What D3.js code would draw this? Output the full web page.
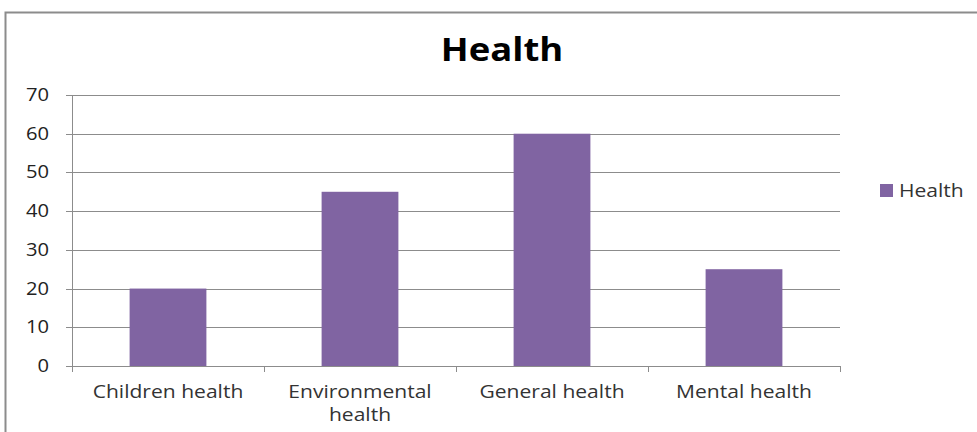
<!DOCTYPE html>
<html><head><meta charset="utf-8">
<script src="https://cdn.jsdelivr.net/npm/d3@7"></script>
<style>body{margin:0;background:#fff}svg{display:block}text{font-family:"Open Sans",sans-serif}</style>
</head><body><svg id="c" width="977" height="432"></svg>
<script>
const categories = ["Children health", "Environmental health", "General health", "Mental health"];
const categoryLines = [["Children health"], ["Environmental", "health"], ["General health"], ["Mental health"]];
const values = [20, 45, 60, 25];
const yTicks = [0, 10, 20, 30, 40, 50, 60, 70];
const seriesName = "Health";
const title = "Health";

const SX = 1.17; // horizontal stretch of the original rendering
const svg = d3.select("#c");
svg.append("rect").attr("x", 5.5).attr("y", 12.5).attr("width", 990).attr("height", 440)
  .attr("fill", "#fff").attr("stroke", "#8c8c8c").attr("stroke-width", 2);

const L = 72, R = 840, T = 95, B = 366;
const x = d3.scaleBand().domain(categories).range([L, R]).paddingInner(0.6).paddingOuter(0.3);
const xb = d3.scaleBand().domain(categories).range([L, R]);
const y = d3.scaleLinear().domain([0, 70]).range([B, T]);

svg.append("g").selectAll("line").data(yTicks).join("line")
  .attr("x1", L - 6).attr("x2", R).attr("y1", d => Math.round(y(d)) + 0.5).attr("y2", d => Math.round(y(d)) + 0.5)
  .attr("stroke", "#8c8c8c").attr("stroke-width", 1);
svg.append("line").attr("x1", L + 0.5).attr("x2", L + 0.5).attr("y1", T).attr("y2", B)
  .attr("stroke", "#8c8c8c");
svg.append("g").selectAll("text").data(yTicks).join("text")
  .attr("transform", d => `translate(49,${y(d) + 6}) scale(1.12,1)`).attr("text-anchor", "end")
  .attr("font-size", 18).attr("fill", "#222").text(d => d);

svg.append("g").selectAll("rect").data(values).join("rect")
  .attr("x", (d, i) => x(categories[i])).attr("width", x.bandwidth())
  .attr("y", d => y(d)).attr("height", d => B - y(d)).attr("fill", "#8064A2");

svg.append("line").attr("x1", L).attr("x2", R).attr("y1", B + 0.5).attr("y2", B + 0.5).attr("stroke", "#8c8c8c");
const bounds = categories.map(c => xb(c)).concat([R]);
svg.append("g").selectAll("line").data(bounds).join("line")
  .attr("x1", d => Math.round(d) + 0.5).attr("x2", d => Math.round(d) + 0.5).attr("y1", B).attr("y2", B + 6)
  .attr("stroke", "#8c8c8c");
const xl = svg.append("g").selectAll("text").data(categories).join("text")
  .attr("transform", d => `translate(${xb(d) + xb.bandwidth() / 2},398) scale(${SX},1)`).attr("text-anchor", "middle")
  .attr("font-size", 18).attr("fill", "#333");
xl.each(function(d, i) {
  const t = d3.select(this);
  categoryLines[i].forEach((ln, j) => t.append("tspan").attr("x", 0).attr("dy", j ? 23 : 0).text(ln));
});

svg.append("text").attr("transform", "translate(502,61) scale(1.14,1)").attr("text-anchor", "middle")
  .attr("font-size", 32).attr("font-weight", "bold").attr("fill", "#000").text(title);

svg.append("rect").attr("x", 880).attr("y", 184).attr("width", 13).attr("height", 13).attr("fill", "#8064A2");
svg.append("text").attr("transform", `translate(899,197) scale(${SX},1)`).attr("font-size", 18).attr("fill", "#333").text(seriesName);
</script></body></html>
